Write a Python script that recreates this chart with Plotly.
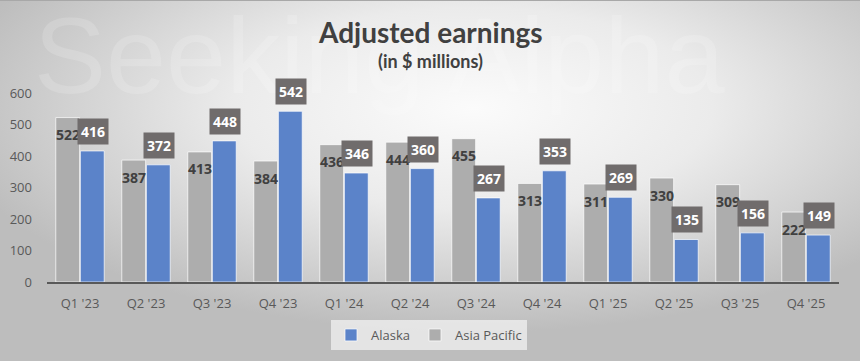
import base64
import plotly.graph_objects as go

quarters = ["Q1 '23", "Q2 '23", "Q3 '23", "Q4 '23", "Q1 '24", "Q2 '24",
            "Q3 '24", "Q4 '24", "Q1 '25", "Q2 '25", "Q3 '25", "Q4 '25"]
asia_pacific = [522, 387, 413, 384, 436, 444, 455, 313, 311, 330, 309, 222]
alaska = [416, 372, 448, 542, 346, 360, 267, 353, 269, 135, 156, 149]

BLUE = "#5b83c9"
GRAY = "#adadad"
BOX = "#706c6c"
TXT = "#404040"
AX = "#595959"

W, H = 860, 361
ML, MR, MT, MB = 47, 21, 93, 79
PW, PH = W - ML - MR, H - MT - MB

svg = f'''<svg xmlns="http://www.w3.org/2000/svg" width="{W}" height="{H}">
<defs><radialGradient id="g" cx="55%" cy="30%" r="62%">
<stop offset="0" stop-color="#fbfbfb"/><stop offset="0.45" stop-color="#ebebeb"/>
<stop offset="1" stop-color="#bdbdbd"/></radialGradient></defs>
<rect width="{W}" height="{H}" fill="url(#g)"/>
<line x1="0" y1="0.5" x2="{W}" y2="0.5" stroke="#a8a8a8" stroke-width="1"/>
</svg>'''
src = "data:image/svg+xml;base64," + base64.b64encode(svg.encode()).decode()

fig = go.Figure()
fig.add_trace(go.Bar(name="Asia Pacific", x=quarters, y=asia_pacific,
                     marker=dict(color=GRAY, line=dict(color="rgba(255,255,255,0.7)", width=1)),
                     legendrank=2, hoverinfo="y"))
fig.add_trace(go.Bar(name="Alaska", x=quarters, y=alaska,
                     marker=dict(color=BLUE, line=dict(color="rgba(255,255,255,0.7)", width=1)),
                     legendrank=1, hoverinfo="y"))

ann = []
ann.append(dict(text="Seeking Alpha", xref="paper", yref="paper", x=0.42, y=1 + 38 / PH,
                yanchor="middle", xanchor="center", showarrow=False,
                font=dict(family="Liberation Sans", size=108, color="rgba(255,255,255,0.16)")))
ann.append(dict(text="<b>Adjusted earnings</b>", xref="paper", yref="paper",
                x=(430 - ML) / PW, y=1 + (MT - 32) / PH, xanchor="center", yanchor="middle",
                showarrow=False, font=dict(family="Lato", size=28, color=TXT)))
ann.append(dict(text="<b>(in $ millions)</b>", xref="paper", yref="paper",
                x=(430 - ML) / PW, y=1 + (MT - 61) / PH, xanchor="center", yanchor="middle",
                showarrow=False, font=dict(family="Lato", size=18, color=TXT)))
for q, v in zip(quarters, asia_pacific):
    ann.append(dict(text=f"<b>{v}</b>", x=q, y=v, xshift=-12.5, yshift=-17,
                    yanchor="middle", xanchor="center", showarrow=False,
                    font=dict(family="Open Sans", size=14, color=TXT)))
for q, v in zip(quarters, alaska):
    ann.append(dict(text=f"<b>{v}</b>", x=q, y=v, xshift=12.5, yshift=6,
                    yanchor="bottom", xanchor="center", showarrow=False,
                    bgcolor=BOX, borderpad=3,
                    font=dict(family="Open Sans", size=14, color="white")))

fig.update_layout(
    width=W, height=H, margin=dict(l=ML, r=MR, t=MT, b=MB, pad=0, autoexpand=False),
    paper_bgcolor="#e0e0e0", plot_bgcolor="rgba(0,0,0,0)",
    barmode="group", bargap=0.255, bargroupgap=0.03,
    showlegend=True,
    legend=dict(orientation="h", xref="container", yref="container",
                x=429 / W, xanchor="center",
                y=1 - 335 / H, yanchor="middle",
                bgcolor="rgba(242,242,242,0.75)", borderwidth=0,
                font=dict(family="Open Sans", size=13, color=AX),
                itemwidth=30, tracegroupgap=0),
    annotations=ann,
    images=[dict(source=src, xref="paper", yref="paper", x=-ML / PW, y=1 + MT / PH,
                 sizex=W / PW, sizey=H / PH, xanchor="left", yanchor="top",
                 sizing="stretch", layer="below")],
    font=dict(family="Open Sans", color=AX),
)
fig.update_xaxes(showgrid=False, showline=True, linecolor=AX, linewidth=2,
                 ticks="", tickfont=dict(family="Open Sans", size=13, color=AX),
                 ticklabelstandoff=8)
fig.update_yaxes(range=[0, 600], dtick=100, showgrid=False, zeroline=False,
                 showline=False, ticks="", tickfont=dict(family="Open Sans", size=13, color=AX),
                 ticklabelstandoff=14)

fig.write_html("out.html", config={"displayModeBar": False},
               post_script="document.body.style.margin='0';document.body.style.overflow='hidden';")
